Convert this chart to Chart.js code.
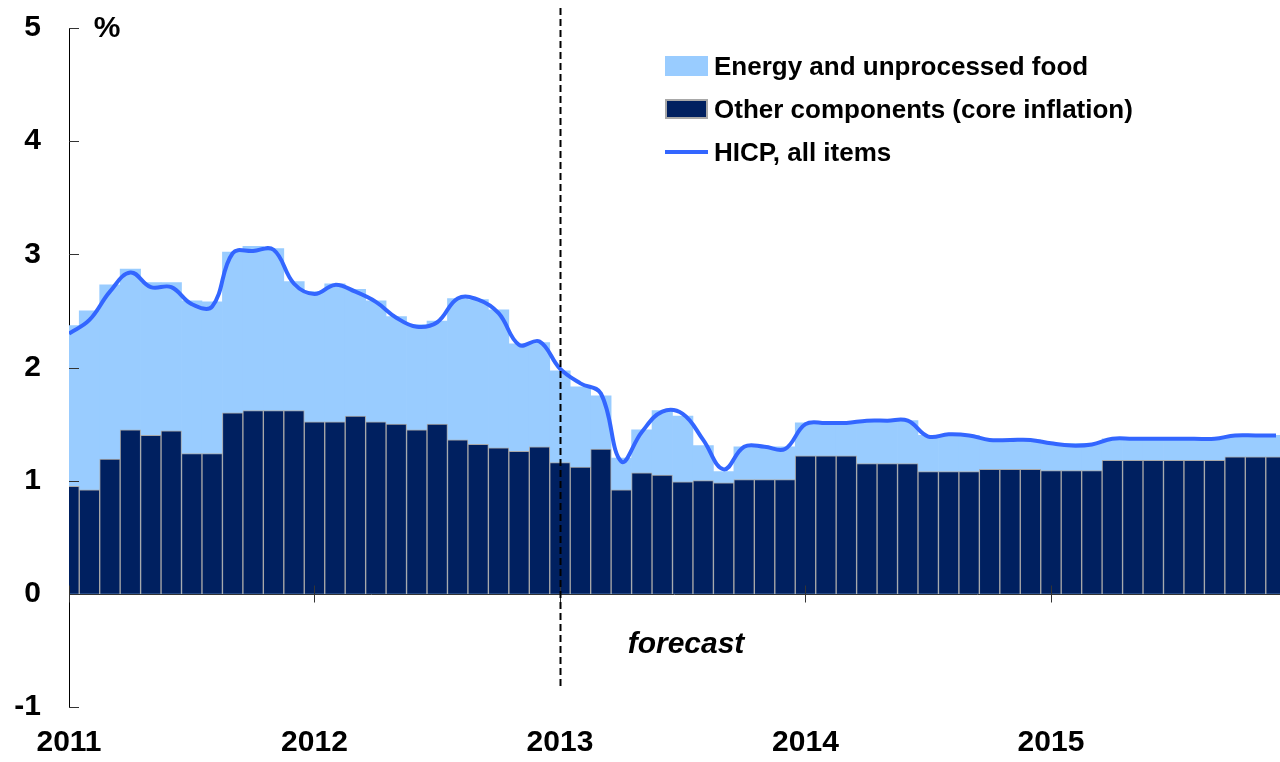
<!DOCTYPE html>
<html>
<head>
<meta charset="utf-8">
<title>HICP inflation and its components</title>
<script src="https://cdn.jsdelivr.net/npm/chart.js@4.4.1/dist/chart.umd.min.js"></script>
<style>
  html, body { margin: 0; padding: 0; background: #fff; }
  #wrap { width: 1280px; height: 762px; }
</style>
</head>
<body>
<div id="wrap"><canvas id="chart" width="1280" height="762"></canvas></div>
<script>
'use strict';

/* ── data (monthly, Jan 2011 – Dec 2015) ───────────────────────── */
const YEARS = ['2011', '2012', '2013', '2014', '2015'];
const MONTHS = [];
YEARS.forEach(y => {
  for (let m = 1; m <= 12; m++) MONTHS.push(y + '-' + String(m).padStart(2, '0'));
});

// top of the light blue area (core + energy and unprocessed food)
const ENERGY_FOOD_TOP = [
  2.37, 2.50, 2.73, 2.87, 2.75, 2.75, 2.59, 2.58, 3.02, 3.07, 3.05, 2.76,
  2.67, 2.74, 2.69, 2.59, 2.45, 2.38, 2.41, 2.61, 2.60, 2.51, 2.21, 2.22,
  1.97, 1.83, 1.75, 1.20, 1.45, 1.62, 1.57, 1.31, 1.08, 1.30, 1.30, 1.30,
  1.51, 1.51, 1.51, 1.53, 1.53, 1.53, 1.40, 1.40, 1.40, 1.36, 1.36, 1.36,
  1.33, 1.33, 1.33, 1.37, 1.37, 1.37, 1.38, 1.38, 1.38, 1.40, 1.40, 1.40
];

// other components (core inflation)
const CORE = [
  0.95, 0.92, 1.19, 1.45, 1.40, 1.44, 1.24, 1.24, 1.60, 1.62, 1.62, 1.62,
  1.52, 1.52, 1.57, 1.52, 1.50, 1.45, 1.50, 1.36, 1.32, 1.29, 1.26, 1.30,
  1.16, 1.12, 1.28, 0.92, 1.07, 1.05, 0.99, 1.00, 0.98, 1.01, 1.01, 1.01,
  1.22, 1.22, 1.22, 1.15, 1.15, 1.15, 1.08, 1.08, 1.08, 1.10, 1.10, 1.10,
  1.09, 1.09, 1.09, 1.18, 1.18, 1.18, 1.18, 1.18, 1.18, 1.21, 1.21, 1.21
];

// HICP, all items
const HICP = [
  2.30, 2.42, 2.67, 2.84, 2.71, 2.71, 2.56, 2.54, 3.01, 3.03, 3.04, 2.74,
  2.65, 2.73, 2.67, 2.58, 2.44, 2.36, 2.40, 2.61, 2.60, 2.48, 2.20, 2.23,
  1.99, 1.86, 1.77, 1.17, 1.43, 1.61, 1.59, 1.36, 1.10, 1.30, 1.30, 1.28,
  1.50, 1.51, 1.51, 1.53, 1.53, 1.53, 1.39, 1.41, 1.40, 1.36, 1.36, 1.36,
  1.33, 1.31, 1.32, 1.37, 1.37, 1.37, 1.37, 1.37, 1.37, 1.40, 1.40, 1.40
];

const Y_TICKS = [-1, 0, 1, 2, 3, 4, 5];
const FORECAST_START = '2013-01';
const UNIT_LABEL = '%';
const FORECAST_LABEL = 'forecast';

/* ── colours ───────────────────────────────────────────────────── */
const COLORS = {
  energy:   '#99CCFF',
  core:     '#002060',
  coreEdge: '#A8A8A8',
  hicp:     '#3366FF',
  axis:     '#000000',
  tick:     '#333333',
};

const FONT = "'Liberation Sans', Arial, sans-serif";

/* ── extra drawing: axis marks, forecast line, texts, legend ──── */
const decorations = {
  id: 'decorations',
  afterDatasetsDraw(chart) {
    const { ctx, chartArea: a, scales: { x, y } } = chart;
    ctx.save();

    // zero line and year ticks
    const y0 = Math.round(y.getPixelForValue(0)) + 0.5;
    ctx.strokeStyle = COLORS.tick;
    ctx.lineWidth = 1;
    ctx.beginPath();
    ctx.moveTo(a.left, y0);
    ctx.lineTo(chart.width, y0);
    ctx.stroke();

    MONTHS.forEach((m, i) => {
      if (!m.endsWith('-01')) return;
      const px = Math.round(x.getPixelForValue(i)) + 0.5;
      ctx.beginPath();
      ctx.moveTo(px, y0 - 9);
      ctx.lineTo(px, y0 + 8);
      ctx.stroke();
    });

    // y ticks pointing into the plot
    Y_TICKS.forEach(v => {
      const py = Math.round(y.getPixelForValue(v)) + 0.5;
      ctx.beginPath();
      ctx.moveTo(a.left, py);
      ctx.lineTo(a.left + 10, py);
      ctx.stroke();
    });

    // forecast separator
    const fx = Math.round(x.getPixelForValue(MONTHS.indexOf(FORECAST_START))) + 0.5;
    ctx.strokeStyle = '#000';
    ctx.lineWidth = 2;
    ctx.setLineDash([7, 4]);
    ctx.beginPath();
    ctx.moveTo(fx, a.top - 20);
    ctx.lineTo(fx, a.bottom - 21);
    ctx.stroke();
    ctx.setLineDash([]);

    // texts
    ctx.fillStyle = '#000';
    ctx.font = 'bold 30px ' + FONT;
    ctx.textAlign = 'center';
    ctx.textBaseline = 'middle';
    ctx.fillText(UNIT_LABEL, a.left + 38, a.top + 1);

    ctx.font = 'italic bold 30px ' + FONT;
    ctx.textBaseline = 'alphabetic';
    ctx.fillText(FORECAST_LABEL, 686, 653);

    // legend
    const lx = 665, bw = 43, tx = 714;
    const rows = [75, 118, 161];
    ctx.font = 'bold 26px ' + FONT;
    ctx.textAlign = 'left';
    chart.data.datasets.forEach((ds, i) => {
      const base = rows[i];
      const cy = base - 9;
      if (ds.type === 'line') {
        ctx.strokeStyle = ds.borderColor;
        ctx.lineWidth = 4;
        ctx.beginPath();
        ctx.moveTo(lx, cy);
        ctx.lineTo(lx + bw, cy);
        ctx.stroke();
      } else if (ds.borderWidth) {
        ctx.fillStyle = ds.borderColor;
        ctx.fillRect(lx, cy - 10, bw, 20);
        ctx.fillStyle = ds.backgroundColor;
        ctx.fillRect(lx + 2, cy - 8, bw - 4, 16);
      } else {
        ctx.fillStyle = ds.backgroundColor;
        ctx.fillRect(lx, cy - 10, bw, 20);
      }
      ctx.fillStyle = '#000';
      ctx.fillText(ds.label, tx, base);
    });

    ctx.restore();
  }
};

/* ── chart ─────────────────────────────────────────────────────── */
Chart.defaults.font.family = FONT;
Chart.defaults.color = '#000';

new Chart(document.getElementById('chart'), {
  type: 'bar',
  data: {
    labels: MONTHS,
    datasets: [
      {
        label: 'Energy and unprocessed food',
        data: ENERGY_FOOD_TOP,
        backgroundColor: COLORS.energy,
        borderWidth: 0,
        grouped: false,
        barPercentage: 1,
        categoryPercentage: 1,
        order: 3,
        clip: { left: 0, right: false, top: false, bottom: false },
      },
      {
        label: 'Other components (core inflation)',
        data: CORE,
        backgroundColor: COLORS.core,
        borderColor: COLORS.coreEdge,
        borderWidth: 1,
        grouped: false,
        barPercentage: 1,
        categoryPercentage: 1,
        order: 2,
        clip: { left: 0, right: false, top: false, bottom: false },
      },
      {
        type: 'line',
        label: 'HICP, all items',
        data: HICP,
        borderColor: COLORS.hicp,
        borderWidth: 4,
        pointRadius: 0,
        tension: 0.4,
        fill: false,
        order: 1,
        clip: { left: 0, right: false, top: false, bottom: false },
      },
    ],
  },
  options: {
    responsive: false,
    animation: false,
    layout: { padding: { top: 28, right: 4, left: 0, bottom: 0 } },
    plugins: {
      legend: { display: false },
      tooltip: { enabled: false },
    },
    scales: {
      x: {
        type: 'category',
        offset: false,
        grid: { display: false, drawTicks: false },
        border: { display: false },
        ticks: {
          autoSkip: false,
          maxRotation: 0,
          minRotation: 0,
          padding: 18,
          color: '#000',
          font: { size: 30, weight: 'bold' },
          callback: (v, i) => (MONTHS[i].endsWith('-01') ? MONTHS[i].slice(0, 4) : ''),
        },
        afterFit: s => {
          s.height = 55;
          s.paddingLeft = 0;
          s.paddingRight = 0;
        },
      },
      y: {
        min: -1,
        max: 5,
        grid: { display: false, drawTicks: false },
        border: { display: true, color: COLORS.axis, width: 1 },
        ticks: {
          stepSize: 1,
          padding: 28,
          color: '#000',
          font: { size: 30, weight: 'bold' },
        },
        afterFit: s => {
          s.width = 69;
          s.paddingTop = 0;
          s.paddingBottom = 0;
        },
      },
    },
  },
  plugins: [decorations],
});
</script>
</body>
</html>
